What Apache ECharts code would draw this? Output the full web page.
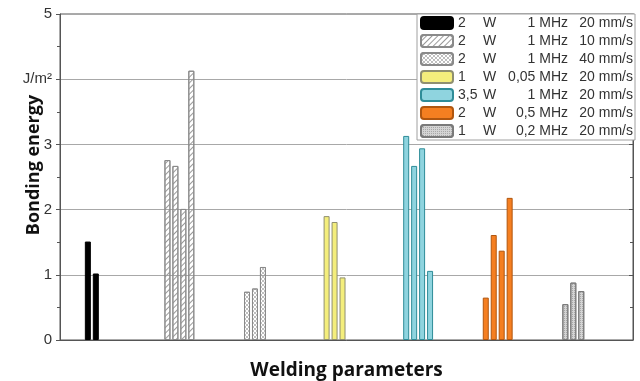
<!DOCTYPE html>
<html><head><meta charset="utf-8">
<script src="https://cdn.jsdelivr.net/npm/echarts@6/dist/echarts.min.js"></script>
<style>html,body{margin:0;padding:0;background:#fff}#c{width:640px;height:381px}</style>
</head><body><div id="c"></div>
<script>
// Legend fields (welding parameters)
const powers = ['2', '2', '2', '1', '3,5', '2', '1'];
const freqs = ['1 MHz', '1 MHz', '1 MHz', '0,05 MHz', '1 MHz', '0,5 MHz', '0,2 MHz'];
const speeds = ['20 mm/s', '10 mm/s', '40 mm/s', '20 mm/s', '20 mm/s', '20 mm/s', '20 mm/s'];
// Bonding energy values per group (J/m²)
const g1 = [1.51, 1.02];
const g2 = [2.76, 2.67, 2.01, 4.13];
const g3 = [0.74, 0.79, 1.12];
const g4 = [1.90, 1.81, 0.96];
const g5 = [3.13, 2.67, 2.94, 1.06];
const g6 = [0.65, 1.61, 1.37, 2.18];
const g7 = [0.55, 0.88, 0.75];
const groupValues = [g1, g2, g3, g4, g5, g6, g7];
const yTickLabels = ['0', '1', '2', '3', 'J/m²', '5'];

const slotsPerGroup = 10, groupOffset = 3, totalSlots = 72;
const slots = Array.from({length: totalSlots}, (_, i) => 's' + i);
const names = powers.map((p, i) => p + ' W ' + freqs[i] + ' ' + speeds[i]);

const styles = [
  {color: '#000000', borderColor: '#000000'},
  {color: 'rgba(255,255,255,0)', borderColor: '#8a8a8a',
   decal: {symbol: 'rect', symbolSize: 1, dashArrayX: [1, 0], dashArrayY: [1, 3], rotation: -Math.PI / 4, color: '#9a9a9a'}},
  {color: 'rgba(255,255,255,0)', borderColor: '#8a8a8a',
   decal: {symbol: 'circle', symbolSize: 0.9, dashArrayX: [[2, 2], [0, 2, 2, 0]], dashArrayY: [2, 0], color: '#a0a0a0'}},
  {color: '#f4ee7c', borderColor: '#8f8f70'},
  {color: '#8fd4df', borderColor: '#2e8c98'},
  {color: '#f57f21', borderColor: '#b0560f'},
  {color: '#d4d4d4', borderColor: '#7a7a7a',
   decal: {symbol: 'rect', symbolSize: 1, dashArrayX: [1, 1], dashArrayY: [1, 1], color: '#a8a8a8'}}
];

const series = groupValues.map((vals, g) => {
  const data = slots.map(() => '-');
  vals.forEach((v, k) => { data[g * slotsPerGroup + groupOffset + k] = v; });
  return {
    name: names[g], type: 'bar', data: data,
    barWidth: 6, barGap: '-100%',
    itemStyle: Object.assign({borderWidth: 1}, styles[g]),
    emphasis: {disabled: true}
  };
});

const chart = echarts.init(document.getElementById('c'), null, {renderer: 'canvas'});
chart.setOption({
  animation: false,
  backgroundColor: '#fff',
  grid: {left: 60, right: 7, top: 14, bottom: 41, show: true, borderColor: '#555', borderWidth: 1,
         containLabel: false, outerBoundsMode: 'none'},
  legend: {
    orient: 'vertical', left: 417, top: 14,
    itemWidth: 32, itemHeight: 12, itemGap: 4,
    padding: [2, 2, 2, 3],
    backgroundColor: '#fff', borderColor: '#a0a0a0', borderWidth: 1,
    data: names,
    formatter: function (n) {
      const i = names.indexOf(n);
      return '{a|' + powers[i] + '}{b|W}{c|' + freqs[i] + '}{d|' + speeds[i] + '}';
    },
    textStyle: {
      color: '#333', fontFamily: 'Liberation Sans', fontSize: 14, lineHeight: 14,
      rich: {
        a: {width: 25, fontSize: 14, fontFamily: 'Liberation Sans', color: '#333', lineHeight: 14},
        b: {width: 14, fontSize: 14, fontFamily: 'Liberation Sans', color: '#333', lineHeight: 14},
        c: {width: 71, align: 'right', fontSize: 14, fontFamily: 'Liberation Sans', color: '#333', lineHeight: 14},
        d: {width: 65, align: 'right', fontSize: 14, fontFamily: 'Liberation Sans', color: '#333', lineHeight: 14}
      }
    }
  },
  xAxis: {
    type: 'category', data: slots,
    axisLine: {show: true, lineStyle: {color: '#555'}},
    axisTick: {show: false}, axisLabel: {show: false},
    name: 'Welding parameters', nameLocation: 'middle', nameGap: 21,
    nameTextStyle: {fontFamily: 'Open Sans', fontWeight: 'bold', fontSize: 19, color: '#111'}
  },
  yAxis: [{
    type: 'value', min: 0, max: 5, interval: 1, position: 'left',
    axisLine: {show: true, lineStyle: {color: '#555'}},
    axisTick: {show: true, length: 4, lineStyle: {color: '#555'}},
    minorTick: {show: true, splitNumber: 2, length: 3, lineStyle: {color: '#555'}},
    splitLine: {show: true, lineStyle: {color: '#a8a8a8', width: 1}},
    axisLabel: {
      margin: 8, fontFamily: 'Liberation Sans', fontSize: 15, color: '#333',
      formatter: function (v) { return yTickLabels[Math.round(v)]; }
    },
    name: 'Bonding energy', nameLocation: 'middle', nameGap: 17, nameMoveOverlap: false,
    nameTextStyle: {fontFamily: 'Open Sans', fontWeight: 'bold', fontSize: 18, color: '#111', padding: [0, 0, 0, 24]}
  }, {
    type: 'value', min: 0, max: 5, interval: 1, position: 'right',
    axisLine: {show: true, lineStyle: {color: '#555'}},
    axisTick: {show: true, inside: true, length: 4, lineStyle: {color: '#555'}},
    minorTick: {show: true, splitNumber: 2, length: 3, lineStyle: {color: '#555'}},
    splitLine: {show: false}, axisLabel: {show: false}
  }],
  series: series
});
</script></body></html>
